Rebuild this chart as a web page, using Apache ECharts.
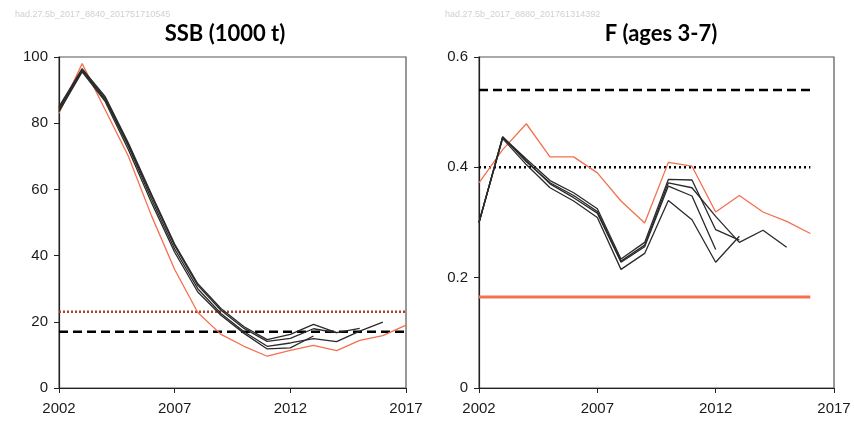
<!DOCTYPE html>
<html><head><meta charset="utf-8">
<script src="https://cdn.jsdelivr.net/npm/echarts@6/dist/echarts.min.js"></script>
<style>html,body{margin:0;padding:0;background:#fff}#c{width:854px;height:421px}</style>
</head><body><div id="c"></div>
<script>
// ---- data ----
const ssbYears = [2002,2003,2004,2005,2006,2007,2008,2009,2010,2011,2012,2013,2014,2015,2016,2017];
const ssbOrange = [83,98,84,70,52,35.8,22.8,16.2,12.6,9.6,11.4,12.9,11.3,14.4,15.8,19];
const ssbRun1 = [84,96,87,73,57,42,30,22.5,17,12.6,13.6,14.9,14.0,17.2,19.9];
const ssbRun2 = [85,96.5,88,74,58.5,43.5,31.5,24,18.5,14.6,16.2,19.2,16.7,18.0];
const ssbRun3 = [84.5,96,87.5,73.5,58,43,31,23.5,18,14.1,15.0,17.9,16.7];
const ssbRun4 = [83.5,95.5,86.5,72,56,41,29,22,16.5,11.8,12.1,15.7];
const ssbBpa = 23;
const ssbBlim = 17;
const ssbRefYears = [2002,2017];

const fYears = [2002,2003,2004,2005,2006,2007,2008,2009,2010,2011,2012,2013,2014,2015,2016];
const fOrange = [0.372,0.432,0.479,0.419,0.419,0.39,0.339,0.299,0.409,0.402,0.319,0.349,0.319,0.302,0.28];
const fRunA = [0.3,0.455,0.41,0.372,0.349,0.32,0.23,0.259,0.372,0.363,0.311,0.264,0.286,0.255];
const fRunB = [0.3,0.455,0.415,0.376,0.354,0.325,0.234,0.264,0.378,0.377,0.287,0.268];
const fRunC = [0.3,0.452,0.405,0.363,0.339,0.309,0.215,0.244,0.34,0.305,0.228,0.275];
const fRunD = [0.3,0.455,0.412,0.37,0.345,0.317,0.228,0.256,0.366,0.348,0.251];
const fPa = 0.54;
const fLim = 0.4;
const fMsy = 0.165;
const fRefYears = [2002,2016];

// ---- build ----
const pairs = (ys, vs) => vs.map((v,i)=>[ys[i], v]);
const ORANGE = '#f4704f';
const DARK = '#2a2a2a';
const labelStyle = {color:'#1a1a1a', fontFamily:'Liberation Sans, Arial, sans-serif', fontSize:15};

function xAxis(gi){
  return {type:'value', gridIndex:gi, min:2002, max:2017, interval:5,
    axisLine:{lineStyle:{color:'#222', width:1.2}},
    axisTick:{show:true, length:5, lineStyle:{color:'#222'}},
    axisLabel:Object.assign({margin:13, formatter:v=>String(v)}, labelStyle),
    splitLine:{show:false}};
}
function yAxis(gi, max, interval, fmt){
  return {type:'value', gridIndex:gi, min:0, max:max, interval:interval,
    axisLine:{show:true, lineStyle:{color:'#222', width:1.2}},
    axisTick:{show:true, length:5, lineStyle:{color:'#222'}},
    axisLabel:Object.assign({margin:11, formatter:fmt}, labelStyle),
    splitLine:{show:false}};
}
function line(gi, data, color, width, type, z){
  return {type:'line', xAxisIndex:gi, yAxisIndex:gi, data:data, symbol:'none',
    lineStyle:{color:color, width:width, type:type||'solid'}, z:z||2, animation:false, silent:true};
}

const series = [
  line(0, pairs(ssbRefYears,[ssbBpa,ssbBpa]), '#a8432a', 2.5, [2,2], 1),
  line(0, pairs(ssbRefYears,[ssbBlim,ssbBlim]), '#000', 2.5, [9,5], 1),
  line(0, pairs(ssbYears, ssbOrange), ORANGE, 1.3),
  line(0, pairs(ssbYears, ssbRun4), DARK, 1.3),
  line(0, pairs(ssbYears, ssbRun3), DARK, 1.3),
  line(0, pairs(ssbYears, ssbRun2), DARK, 1.3),
  line(0, pairs(ssbYears, ssbRun1), DARK, 1.3),
  line(1, pairs(fRefYears,[fPa,fPa]), '#000', 2.5, [9,5], 1),
  line(1, pairs(fRefYears,[fLim,fLim]), '#000', 2.5, [2,3], 1),
  line(1, pairs(fRefYears,[fMsy,fMsy]), ORANGE, 3, 'solid', 1),
  line(1, pairs(fYears, fOrange), ORANGE, 1.3),
  line(1, pairs(fYears, fRunD), DARK, 1.3),
  line(1, pairs(fYears, fRunC), DARK, 1.3),
  line(1, pairs(fYears, fRunB), DARK, 1.3),
  line(1, pairs(fYears, fRunA), DARK, 1.3),
];

const chart = echarts.init(document.getElementById('c'), null, {renderer:'canvas'});
chart.setOption({
  animation:false,
  backgroundColor:'#fff',
  title:[
    {text:'SSB (1000 t)', left:220, top:18, textAlign:'center',
      textStyle:{fontFamily:'Lato, sans-serif', fontSize:22, fontWeight:'bold', color:'#000'}},
    {text:'F (ages 3-7)', left:656, top:18, textAlign:'center',
      textStyle:{fontFamily:'Lato, sans-serif', fontSize:22, fontWeight:'bold', color:'#000'}},
    {text:'had.27.5b_2017_8840_201751710545', left:10, top:5,
      textStyle:{fontFamily:'Liberation Sans, Arial, sans-serif', fontSize:9, fontWeight:'normal', color:'#d0d0d0'}},
    {text:'had.27.5b_2017_8880_201761314392', left:440, top:5,
      textStyle:{fontFamily:'Liberation Sans, Arial, sans-serif', fontSize:9, fontWeight:'normal', color:'#d0d0d0'}}
  ],
  grid:[
    {left:59, top:57, width:347, height:331, show:true, borderColor:'#555', borderWidth:1.2, backgroundColor:'transparent'},
    {left:479, top:57, width:355, height:331, show:true, borderColor:'#555', borderWidth:1.2, backgroundColor:'transparent'}
  ],
  xAxis:[xAxis(0), xAxis(1)],
  yAxis:[yAxis(0,100,20,v=>String(v)), yAxis(1,0.6,0.2,v=>v===0?'0':v.toFixed(1))],
  series:series
});
</script></body></html>
